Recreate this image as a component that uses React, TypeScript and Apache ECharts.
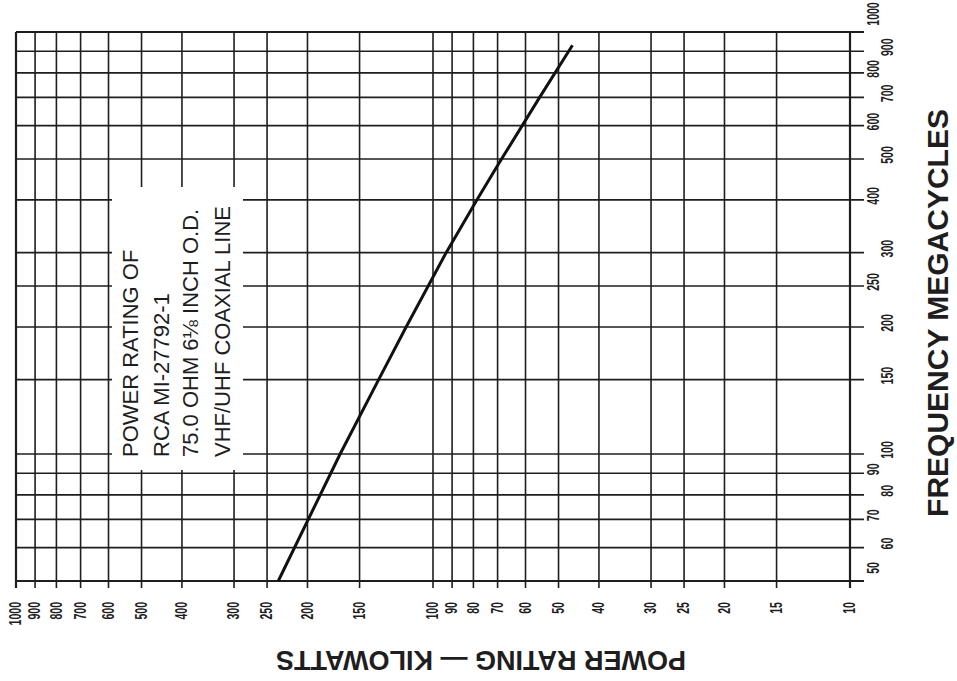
import React, { useEffect, useRef } from 'react';
import * as echarts from 'echarts';

// ---- data ----
const powerTicks = [1000, 900, 800, 700, 600, 500, 400, 300, 250, 200, 150, 100, 90, 80, 70, 60, 50, 40, 30, 25, 20, 15, 10];
const freqTicks = [50, 60, 70, 80, 90, 100, 150, 200, 250, 300, 400, 500, 600, 700, 800, 900, 1000];
const curveFreq = [50, 100, 150, 200, 300, 400, 500, 700, 930];
const curvePower = [235, 167, 135, 116, 93, 78.5, 68.5, 55.5, 46.3];
const noteLines = ['POWER RATING OF', 'RCA MI-27792-1', '75.0 OHM 6⅛ INCH O.D.', 'VHF/UHF COAXIAL LINE'];
const xTitle = 'POWER RATING — KILOWATTS';
const yTitle = 'FREQUENCY MEGACYCLES';

const POWER_MIN = 10;
const POWER_MAX = 1000;
const FREQ_MIN = 50;
const FREQ_MAX = 1000;

// ---- layout / style ----
const INK = '#1e1e1e';
const TICK_STYLE = { fontSize: 16, fontWeight: 'bold', fontFamily: '"Liberation Sans", Arial, sans-serif', fill: INK };
const TICK_SQUEEZE = 0.66;
const innerColumn = new Set([1000, 800, 600, 400, 250, 90, 70, 50]);
const labelShift: Record<number, number> = { 1000: -18, 50: -13 };

export default function App() {
  const ref = useRef<HTMLDivElement>(null);

  useEffect(() => {
    if (!ref.current) return;
    const chart = echarts.init(ref.current, undefined, { renderer: 'svg' });

    const option: any = {
      animation: false,
      backgroundColor: '#ffffff',
      grid: { left: 16, right: 107, top: 32, bottom: 100 },
      xAxis: { type: 'log', logBase: 10, min: POWER_MIN, max: POWER_MAX, inverse: true, show: false },
      yAxis: { type: 'log', logBase: 10, min: FREQ_MIN, max: FREQ_MAX, show: false },
      series: [
        {
          type: 'custom',
          coordinateSystem: 'cartesian2d',
          clip: false,
          silent: true,
          z: 1,
          data: powerTicks.map((p) => [p, FREQ_MIN]),
          encode: { x: 0, y: 1 },
          renderItem: (params: any, api: any) => {
            const v = api.value(0);
            const b = api.coord([v, FREQ_MIN]);
            const t = api.coord([v, FREQ_MAX]);
            const edge = v === POWER_MIN || v === POWER_MAX;
            return {
              type: 'group',
              children: [
                {
                  type: 'line',
                  shape: { x1: b[0], y1: t[1], x2: b[0], y2: b[1] + 7 },
                  style: { stroke: INK, lineWidth: edge ? 2.2 : 1.6 },
                },
                {
                  type: 'text',
                  x: b[0],
                  y: b[1] + 21,
                  rotation: Math.PI / 2,
                  scaleX: TICK_SQUEEZE,
                  style: { text: String(v), align: 'right', verticalAlign: 'middle', ...TICK_STYLE },
                },
              ],
            };
          },
        },
        {
          type: 'custom',
          coordinateSystem: 'cartesian2d',
          clip: false,
          silent: true,
          z: 1,
          data: freqTicks.map((f) => [POWER_MIN, f]),
          encode: { x: 0, y: 1 },
          renderItem: (params: any, api: any) => {
            const v = api.value(1);
            const l = api.coord([POWER_MAX, v]);
            const r = api.coord([POWER_MIN, v]);
            const edge = v === FREQ_MIN || v === FREQ_MAX;
            const colX = innerColumn.has(v) ? r[0] + 24 : r[0] + 38;
            const shift = labelShift[v] !== undefined ? labelShift[v] : -4;
            return {
              type: 'group',
              children: [
                {
                  type: 'line',
                  shape: { x1: l[0], y1: l[1], x2: r[0] + 14, y2: r[1] },
                  style: { stroke: INK, lineWidth: edge ? 2.2 : 1.6 },
                },
                {
                  type: 'text',
                  x: colX,
                  y: r[1] + shift,
                  rotation: Math.PI / 2,
                  scaleX: TICK_SQUEEZE,
                  style: { text: String(v), align: 'center', verticalAlign: 'middle', ...TICK_STYLE },
                },
              ],
            };
          },
        },
        {
          type: 'line',
          z: 3,
          silent: true,
          symbol: 'none',
          data: curveFreq.map((f, i) => [curvePower[i], f]),
          lineStyle: { color: '#111111', width: 3 },
        },
      ],
      graphic: {
        elements: [
          {
            type: 'rect',
            z: 100,
            silent: true,
            shape: { x: 112, y: 187, width: 131, height: 283 },
            style: { fill: '#ffffff' },
          },
          ...noteLines.map((t, i) => ({
            type: 'text',
            z: 101,
            silent: true,
            x: [130, 161, 190, 222][i],
            y: 457,
            rotation: Math.PI / 2,
            style: {
              text: t,
              align: 'left',
              verticalAlign: 'middle',
              font: '22px "Liberation Sans", Arial, sans-serif',
              fill: INK,
            },
          })),
          {
            type: 'text',
            z: 101,
            silent: true,
            x: 481,
            y: 660,
            rotation: Math.PI,
            style: {
              text: xTitle,
              align: 'center',
              verticalAlign: 'middle',
              font: 'bold 27px "Liberation Sans", Arial, sans-serif',
              fill: INK,
            },
          },
          {
            type: 'text',
            z: 101,
            silent: true,
            x: 937,
            y: 313,
            rotation: Math.PI / 2,
            style: {
              text: yTitle,
              align: 'center',
              verticalAlign: 'middle',
              font: 'bold 30px "Liberation Sans", Arial, sans-serif',
              fill: INK,
            },
          },
        ],
      },
    };

    chart.setOption(option);
    return () => chart.dispose();
  }, []);

  return (
    <div
      ref={ref}
      style={{ position: 'fixed', left: 0, top: 0, width: 957, height: 681, background: '#ffffff' }}
    />
  );
}
